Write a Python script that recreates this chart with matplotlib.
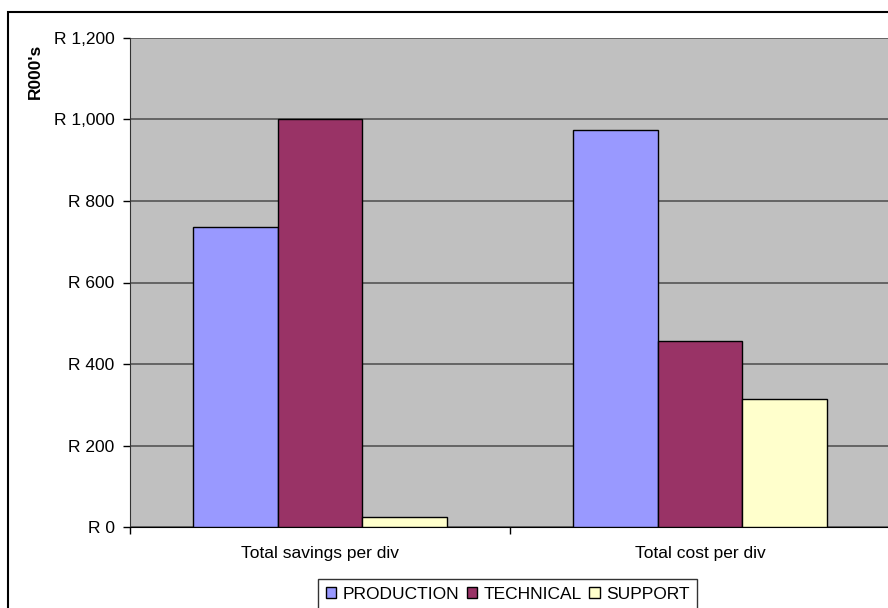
import numpy as np
import matplotlib.pyplot as plt
from matplotlib.patches import Patch, Rectangle

plt.rcParams['font.family'] = ['Liberation Sans', 'DejaVu Sans']

# --- data (R000's) ---
categories = ["Total savings per div", "Total cost per div"]
divisions = ["PRODUCTION", "TECHNICAL", "SUPPORT"]
production = [736, 975]
technical = [1000, 456]
support = [25, 314]
colors = ["#9999FF", "#993366", "#FFFFCC"]
yticks = [0, 200, 400, 600, 800, 1000, 1200]
ytick_labels = ["R 0", "R 200", "R 400", "R 600", "R 800", "R 1,000", "R 1,200"]

FS = 12.5
W, H = 888, 608
fig = plt.figure(figsize=(W / 100, H / 100), dpi=100)
ax = fig.add_axes([130 / W, (H - 527) / H, 760 / W, (527 - 38) / H])
ax.set_facecolor("#C0C0C0")

# outer chart border
fig.patches.append(Rectangle((8 / W, -0.1), 1.2, 1 - 12 / H + 0.1,
                             transform=fig.transFigure, fill=False,
                             edgecolor="black", lw=1.5, zorder=0))

x = np.arange(len(categories))
bw = 1 / 4.5
for i, (vals, c) in enumerate(zip([production, technical, support], colors)):
    ax.bar(x + (i - 1) * bw, vals, width=bw, color=c, edgecolor="black",
           lw=1, zorder=3)

ax.set_ylim(0, 1200)
ax.set_xlim(-0.5, 1.5)
ax.set_yticks(yticks)
ax.set_yticklabels(ytick_labels, fontsize=FS)
ax.yaxis.grid(True, color="#555555", lw=1.2, zorder=1)
ax.set_axisbelow(True)
ax.tick_params(axis="y", direction="out", length=5, width=1, pad=6)

# category boundaries as major ticks, names centered as minor ticks
ax.set_xticks([-0.5, 0.5, 1.5])
ax.set_xticklabels([])
ax.set_xticks(x, minor=True)
ax.set_xticklabels(categories, minor=True, fontsize=FS)
ax.tick_params(axis="x", which="major", direction="out", length=5, width=1)
ax.tick_params(axis="x", which="minor", length=0, pad=14)

for s in ["top", "right"]:
    ax.spines[s].set_visible(False)
ax.spines["left"].set_color("#333333")
ax.spines["bottom"].set_color("black")

fig.text(35 / W, 1 - 71 / H, "R000's", rotation=90, fontsize=FS,
         fontweight="bold", ha="center", va="center")

handles = [Patch(facecolor=c, edgecolor="black", lw=1) for c in colors]
leg = fig.legend(handles, divisions, loc="upper left",
                 bbox_to_anchor=(318 / W, 1 - 579 / H), ncol=3, fontsize=FS,
                 frameon=True, fancybox=False, handlelength=0.6,
                 handleheight=0.6, handletextpad=0.35, columnspacing=0.45,
                 borderpad=0.45, borderaxespad=0)
leg.get_frame().set_edgecolor("black")
leg.get_frame().set_linewidth(1)

fig.savefig("out.png", dpi=100)
